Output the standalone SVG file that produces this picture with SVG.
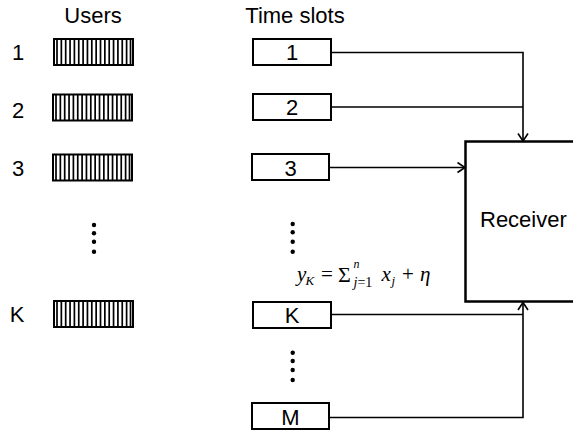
<svg xmlns="http://www.w3.org/2000/svg" xmlns:xlink="http://www.w3.org/1999/xlink" width="573" height="431" viewBox="0 0 573 431">
  <style>
    .lbl { font-family: "Liberation Sans", Arial, sans-serif; font-size: 22px; fill: #000; }
    .mid { text-anchor: middle; }
    .box { fill: #fff; stroke: #000; stroke-width: 2; }
    .rx { fill: #fff; stroke: #000; stroke-width: 2.5; }
    .wire { fill: none; stroke: #000; stroke-width: 1.6; }
    .math { font-family: "Liberation Serif", "Times New Roman", serif; fill: #000; }
    .it { font-style: italic; }
  </style>
  <defs>
    <marker id="open-arrow" markerUnits="userSpaceOnUse" markerWidth="12" markerHeight="12" viewBox="-1 -6 10 12" refX="7.5" refY="0" orient="auto">
      <path d="M0,-5 L7.5,0 L0,5" fill="none" stroke="#000" stroke-width="1.6"/>
    </marker>
    <!-- striped user block -->
    <g id="bar">
      <rect x="0" y="0" width="79" height="26" fill="#fff" stroke="#000" stroke-width="2"/>
      <path d="M3,0V26M7.35,0V26M11.7,0V26M16.05,0V26M20.4,0V26M24.75,0V26M29.1,0V26M33.45,0V26M37.8,0V26M42.15,0V26M46.5,0V26M50.85,0V26M55.2,0V26M59.55,0V26M63.9,0V26M68.25,0V26M72.6,0V26M76.5,0V26" stroke="#000" stroke-width="1.7"/>
    </g>
  </defs>

  <rect width="573" height="431" fill="#fff"/>

  <!-- column headings -->
  <text class="lbl mid" x="93" y="23">Users</text>
  <text class="lbl mid" x="295" y="23">Time slots</text>

  <!-- user rows -->
  <g id="user-1">
    <text class="lbl mid" x="18" y="60">1</text>
    <use xlink:href="#bar" x="54" y="39"/>
  </g>
  <g id="user-2">
    <text class="lbl mid" x="18" y="118">2</text>
    <use xlink:href="#bar" x="53" y="94.5"/>
  </g>
  <g id="user-3">
    <text class="lbl mid" x="18" y="176">3</text>
    <use xlink:href="#bar" x="53" y="154.5"/>
  </g>
  <g id="user-dots">
    <circle cx="94" cy="225" r="2.2"/>
    <circle cx="94" cy="233.3" r="2.2"/>
    <circle cx="94" cy="241.7" r="2.2"/>
    <circle cx="94" cy="251.7" r="2.2"/>
  </g>
  <g id="user-K">
    <text class="lbl mid" x="17" y="322">K</text>
    <use xlink:href="#bar" x="54" y="301"/>
  </g>

  <!-- time slots -->
  <g id="slot-1">
    <rect class="box" x="253" y="39" width="78" height="26"/>
    <text class="lbl mid" x="292" y="60">1</text>
  </g>
  <g id="slot-2">
    <rect class="box" x="253" y="94" width="78" height="26"/>
    <text class="lbl mid" x="292" y="115">2</text>
  </g>
  <g id="slot-3">
    <rect class="box" x="252" y="154" width="77" height="26"/>
    <text class="lbl mid" x="290.5" y="176">3</text>
  </g>
  <g id="slot-dots-upper">
    <circle cx="292.7" cy="224" r="2.2"/>
    <circle cx="292.7" cy="232.3" r="2.2"/>
    <circle cx="292.7" cy="241.7" r="2.2"/>
    <circle cx="292.7" cy="251.7" r="2.2"/>
  </g>
  <g id="slot-K">
    <rect class="box" x="253" y="302" width="78" height="26"/>
    <text class="lbl mid" x="292" y="323">K</text>
  </g>
  <g id="slot-dots-lower">
    <circle cx="292.7" cy="352.7" r="2.2"/>
    <circle cx="292.7" cy="361" r="2.2"/>
    <circle cx="292.7" cy="370" r="2.2"/>
    <circle cx="292.7" cy="380" r="2.2"/>
  </g>
  <g id="slot-M">
    <rect class="box" x="252" y="403" width="77" height="26"/>
    <text class="lbl mid" x="290.5" y="425">M</text>
  </g>

  <!-- received signal -->
  <g id="equation">
    <text class="math it" x="297" y="281" font-size="21">y</text>
    <text class="math it" x="305.5" y="285" font-size="13">K</text>
    <text class="math" x="321" y="281" font-size="21">=</text>
    <text class="math" x="338" y="282" font-size="22">Σ</text>
    <text class="math it" x="353.5" y="267.5" font-size="12">n</text>
    <text class="math" x="353.5" y="287" font-size="14"><tspan class="it">j</tspan>=1</text>
    <text class="math it" x="381.5" y="281" font-size="21">x</text>
    <text class="math it" x="391.5" y="285" font-size="13">j</text>
    <text class="math" x="402" y="281" font-size="21">+</text>
    <text class="math it" x="420" y="281" font-size="21">η</text>
  </g>

  <!-- receiver -->
  <g id="receiver">
    <rect class="rx" x="465.5" y="141.5" width="120" height="160"/>
    <text class="lbl" x="480" y="227">Receiver</text>
  </g>

  <!-- connectors -->
  <g id="connectors">
    <path class="wire" d="M331,52.5 H523 V141" marker-end="url(#open-arrow)"/>
    <path class="wire" d="M331,107 H523"/>
    <path class="wire" d="M329,167.5 H465" marker-end="url(#open-arrow)"/>
    <path class="wire" d="M331,314.5 H523"/>
    <path class="wire" d="M329,417.5 H523 V302.5" marker-end="url(#open-arrow)"/>
  </g>
</svg>
